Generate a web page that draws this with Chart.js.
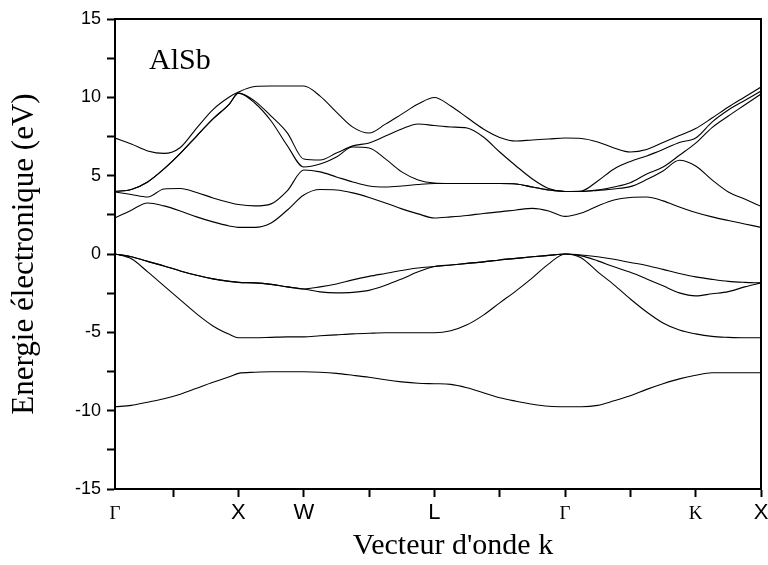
<!DOCTYPE html>
<html>
<head>
<meta charset="utf-8">
<script src="https://cdn.jsdelivr.net/npm/chart.js@4.4.1/dist/chart.umd.min.js"></script>
<style>
  html, body { margin: 0; padding: 0; background: #fff; }
  #bands { display: block; }
</style>
</head>
<body>
<canvas id="bands" width="768" height="565"></canvas>
<script>
// k along the path (one unit = one tick spacing)
const kPath = [0, 0.25, 0.5, 0.75, 1, 1.25, 1.5, 1.75, 1.89, 2.14, 2.39, 2.64, 2.89, 3.14, 3.39, 3.64, 3.89, 4.14, 4.39, 4.64, 4.89,
  5.14, 5.39, 5.64, 5.89, 6.14, 6.39, 6.64, 6.89, 7.14, 7.39, 7.64, 7.89, 8.14, 8.39, 8.64, 8.89, 9.14, 9.39, 9.64, 9.89];
const kTicks = [0, 0.89, 1.89, 2.89, 3.89, 4.89, 5.89, 6.89, 7.89, 8.89, 9.89];
const kLabels = ['Γ', '', 'X', 'W', '', 'L', '', 'Γ', '', 'K', 'X'];
const energyTicks = [-15, -12.5, -10, -7.5, -5, -2.5, 0, 2.5, 5, 7.5, 10, 12.5, 15];

// Energies (eV)
const valence1 = [-9.75, -9.66, -9.46, -9.24, -8.95, -8.57, -8.19, -7.84, -7.62, -7.55, -7.52, -7.52, -7.52, -7.55, -7.62, -7.74, -7.87, -8.03, -8.16, -8.25, -8.28,
  -8.32, -8.54, -8.86, -9.18, -9.4, -9.59, -9.72, -9.75, -9.75, -9.66, -9.37, -9.05, -8.64, -8.28, -7.97, -7.74, -7.58, -7.58, -7.58, -7.58];
const valence2 = [0, -0.31, -1.14, -2.03, -2.93, -3.82, -4.59, -5.13, -5.35, -5.35, -5.32, -5.29, -5.29, -5.22, -5.16, -5.1, -5.06, -5.03, -5.03, -5.03, -5.03,
  -4.9, -4.52, -3.9, -3.12, -2.35, -1.52, -0.63, 0, -0.25, -1.14, -1.97, -2.87, -3.7, -4.4, -4.85, -5.1, -5.26, -5.32, -5.35, -5.35];
const valence3 = [0, -0.18, -0.47, -0.76, -1.08, -1.36, -1.59, -1.75, -1.81, -1.84, -1.94, -2.1, -2.23, -2.1, -1.91, -1.65, -1.43, -1.24, -1.05, -0.89, -0.8,
  -0.7, -0.6, -0.5, -0.38, -0.28, -0.18, -0.09, 0, -0.06, -0.18, -0.34, -0.54, -0.73, -0.98, -1.24, -1.46, -1.62, -1.75, -1.81, -1.84];
const valence4 = [0, -0.18, -0.47, -0.76, -1.08, -1.36, -1.59, -1.75, -1.81, -1.84, -1.94, -2.1, -2.23, -2.42, -2.48, -2.45, -2.32, -2.0, -1.59, -1.14, -0.8,
  -0.7, -0.6, -0.5, -0.38, -0.28, -0.18, -0.09, 0, -0.12, -0.44, -0.82, -1.17, -1.59, -2.03, -2.48, -2.67, -2.54, -2.4, -2.1, -1.84];
const conduction1 = [2.3, 2.8, 3.26, 3.07, 2.75, 2.37, 2.05, 1.79, 1.7, 1.7, 1.98, 2.81, 3.77, 4.12, 4.09, 3.9, 3.61, 3.26, 2.88, 2.56, 2.3,
  2.37, 2.46, 2.59, 2.69, 2.81, 2.91, 2.75, 2.4, 2.62, 3.07, 3.45, 3.61, 3.64, 3.39, 3.0, 2.65, 2.37, 2.14, 1.92, 1.7];
const conduction2 = [3.96, 3.8, 3.64, 4.15, 4.18, 3.93, 3.58, 3.29, 3.16, 3.07, 3.2, 4.05, 5.36, 5.24, 4.92, 4.6, 4.34, 4.28, 4.34, 4.44, 4.5,
  4.5, 4.5, 4.5, 4.5, 4.47, 4.28, 4.09, 3.99, 3.99, 4.06, 4.15, 4.3, 4.75, 5.3, 5.98, 5.62, 4.73, 3.96, 3.51, 3.04];
const conduction3 = [3.99, 4.12, 4.6, 5.43, 6.42, 7.53, 8.62, 9.57, 10.27, 9.64, 8.49, 6.9, 5.55, 5.74, 6.19, 6.83, 6.77, 6.07, 5.24, 4.73, 4.53,
  4.5, 4.5, 4.5, 4.5, 4.47, 4.28, 4.09, 3.99, 3.99, 4.09, 4.28, 4.55, 5.1, 5.55, 6.3, 7.08, 8.07, 8.81, 9.51, 10.21];
const conduction4 = [3.99, 4.12, 4.6, 5.43, 6.42, 7.53, 8.62, 9.57, 10.27, 9.76, 8.8, 7.72, 6.06, 6.0, 6.44, 6.9, 7.09, 7.53, 7.98, 8.3, 8.2,
  8.11, 8.04, 7.47, 6.51, 5.62, 4.79, 4.18, 3.99, 4.02, 4.66, 5.43, 5.91, 6.26, 6.67, 7.12, 7.4, 8.42, 9.19, 9.8, 10.4];
const conduction5 = [7.4, 7.02, 6.58, 6.42, 6.8, 8.04, 9.22, 10.02, 10.34, 10.69, 10.72, 10.72, 10.72, 10.08, 9.06, 8.1, 7.72, 8.29, 8.93, 9.57, 9.99,
  9.45, 8.71, 7.98, 7.44, 7.21, 7.28, 7.34, 7.4, 7.37, 7.15, 6.77, 6.51, 6.67, 7.12, 7.56, 8.01, 8.68, 9.38, 10.02, 10.66];

const bands = [valence1, valence2, valence3, valence4, conduction1, conduction2, conduction3, conduction4, conduction5];

const serif = 'Liberation Serif';
const sans = 'Liberation Sans';

// Frame on all four sides
const chartAreaBorder = {
  id: 'chartAreaBorder',
  afterDraw(chart) {
    const { ctx, chartArea: { left, top, width, height } } = chart;
    ctx.save();
    ctx.strokeStyle = '#000';
    ctx.lineWidth = 2;
    ctx.strokeRect(left, top, width, height);
    ctx.restore();
  }
};

// Material label inside the plot
const materialLabel = {
  id: 'materialLabel',
  afterDraw(chart) {
    const { ctx, scales: { x, y } } = chart;
    ctx.save();
    ctx.fillStyle = '#000';
    ctx.font = `30px "${serif}"`;
    ctx.textBaseline = 'alphabetic';
    ctx.fillText('AlSb', x.getPixelForValue(0.52), y.getPixelForValue(11.8));
    ctx.restore();
  }
};

const datasets = bands.map((band, i) => ({
  label: 'band ' + (i + 1),
  data: band.map((e, j) => ({ x: kPath[j], y: e })),
  borderColor: '#000',
  borderWidth: 1.1,
  pointRadius: 0,
  fill: false,
  cubicInterpolationMode: 'monotone'
}));

new Chart(document.getElementById('bands'), {
  type: 'line',
  data: { datasets },
  options: {
    responsive: false,
    animation: false,
    devicePixelRatio: 1,
    layout: {
      padding: { left: 0, right: 7, top: 19, bottom: 0 }
    },
    plugins: {
      legend: { display: false },
      tooltip: { enabled: false }
    },
    scales: {
      x: {
        type: 'linear',
        min: 0,
        max: 9.89,
        afterBuildTicks(scale) {
          scale.ticks = kTicks.map(v => ({ value: v }));
        },
        afterFit(scale) {
          scale.height = 76;
          scale.paddingLeft = 0;
          scale.paddingRight = 0;
        },
        ticks: {
          autoSkip: false,
          maxRotation: 0,
          padding: 3,
          color: '#000',
          callback: (value, index) => kLabels[index],
          font: (ctx) => {
            const lbl = kLabels[ctx.index];
            if (lbl === 'Γ' || lbl === 'K') {
              return { family: serif, size: 19, lineHeight: 1.45 };
            }
            return { family: sans, size: 22 };
          }
        },
        grid: {
          drawOnChartArea: false,
          drawTicks: true,
          tickLength: 8,
          tickWidth: 2,
          tickColor: (ctx) => ctx.index === 0 ? 'rgba(0,0,0,0)' : '#000'
        },
        border: { display: true, color: '#000', width: 2 },
        title: {
          display: true,
          // leading spaces nudge the title right, as in the original
          text: "    Vecteur d'onde k",
          color: '#000',
          font: { family: serif, size: 30 },
          padding: { top: 0, bottom: 1 }
        }
      },
      y: {
        min: -15,
        max: 15,
        afterBuildTicks(scale) {
          scale.ticks = energyTicks.map(v => ({ value: v }));
        },
        afterFit(scale) {
          scale.width = 115;
          scale.paddingTop = 0;
          scale.paddingBottom = 0;
        },
        ticks: {
          padding: 6,
          color: '#000',
          font: { family: sans, size: 18 },
          callback: (value) => value % 5 === 0 ? String(value) : ''
        },
        grid: {
          drawOnChartArea: false,
          drawTicks: true,
          tickLength: 8,
          tickWidth: 2,
          tickColor: '#000'
        },
        border: { display: true, color: '#000', width: 2 },
        title: {
          display: true,
          text: 'Energie électronique (eV)',
          color: '#000',
          font: { family: serif, size: 31 },
          padding: { top: 6, bottom: 0 }
        }
      }
    }
  },
  plugins: [chartAreaBorder, materialLabel]
});
</script>
</body>
</html>
